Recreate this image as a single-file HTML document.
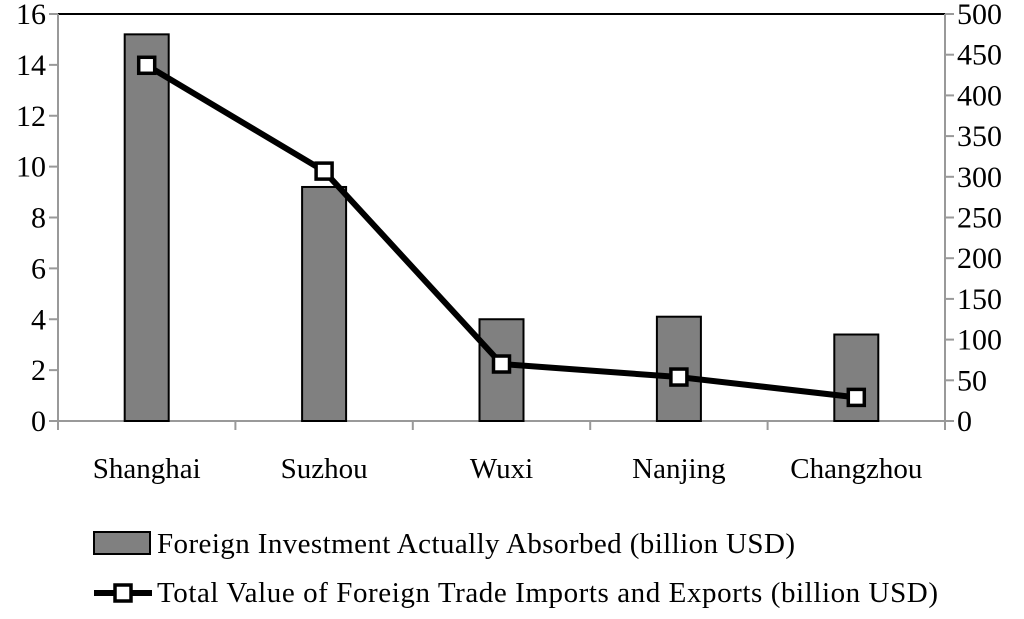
<!DOCTYPE html>
<html><head><meta charset="utf-8"><style>
html,body{margin:0;padding:0;background:#fff}
svg text{font-family:"Liberation Serif",serif;fill:#000}
</style></head><body>
<svg id="c" width="1024" height="614" viewBox="0 0 1024 614"></svg>
<script>
const categories=["Shanghai","Suzhou","Wuxi","Nanjing","Changzhou"];
const investment=[15.2,9.2,4.0,4.1,3.4];
const trade=[437,307,70,54,29];
const leftTicks=[0,2,4,6,8,10,12,14,16];
const rightTicks=[0,50,100,150,200,250,300,350,400,450,500];
const NS="http://www.w3.org/2000/svg";
const svg=document.getElementById('c');
const L=58,R=945,T=14,B=421;
const yL=v=>B-(v/16)*(B-T);
const yR=v=>B-(v/500)*(B-T);
const bw=(R-L)/categories.length;
const xC=i=>L+bw*(i+0.5);
function mk(tag,attrs,parent){const e=document.createElementNS(NS,tag);for(const k in attrs)e.setAttribute(k,attrs[k]);(parent||svg).appendChild(e);return e;}
let e=mk('line',{x1:L,y1:T,x2:R,y2:T,stroke:'#000','stroke-width':2});


e=mk('line',{x1:L,y1:T,x2:L,y2:B,stroke:'#999','stroke-width':2});


e=mk('line',{x1:R,y1:T,x2:R,y2:B,stroke:'#999','stroke-width':2});


e=mk('line',{x1:L,y1:B,x2:R,y2:B,stroke:'#999','stroke-width':2});


leftTicks.forEach(v=>{
  const y=yL(v);
  let t=mk('line',{x1:L-9,y1:y,x2:L,y2:y,stroke:'#999','stroke-width':2});
  
  
  let tx=mk('text',{x:L-12,y:y+10,'text-anchor':'end','font-size':30});
  tx.textContent=v;
  
  
});
rightTicks.forEach(v=>{
  const y=yR(v);
  let t=mk('line',{x1:R,y1:y,x2:R+9,y2:y,stroke:'#999','stroke-width':2});
  
  
  let tx=mk('text',{x:R+12,y:y+10,'text-anchor':'start','font-size':30});
  tx.textContent=v;
  
  
});
for(let i=0;i<=categories.length;i++){
  const x=L+bw*i;
  let t=mk('line',{x1:x,y1:B,x2:x,y2:B+9,stroke:'#999','stroke-width':2});
  
  
}
categories.forEach((c,i)=>{
  let tx=mk('text',{x:xC(i),y:478,'text-anchor':'middle','font-size':29});
  tx.textContent=c;
  
  
});
investment.forEach((v,i)=>{
  let r=mk('rect',{x:xC(i)-22,y:yL(v),width:44,height:B-yL(v),fill:'#808080',stroke:'#000','stroke-width':2});
  
  
});
let pts=trade.map((v,i)=>xC(i)+','+yR(v)).join(' ');
let pl=mk('polyline',{points:pts,fill:'none',stroke:'#000','stroke-width':6,'stroke-linejoin':'round'});


trade.forEach((v,i)=>{
  let m=mk('rect',{x:xC(i)-8,y:yR(v)-8,width:16,height:16,fill:'#fff',stroke:'#000','stroke-width':3.5});
  
  
});
let lr=mk('rect',{x:94,y:532,width:56,height:22,fill:'#808080',stroke:'#000','stroke-width':2});


let lt=mk('text',{x:157,y:553,'font-size':29,textLength:638,lengthAdjust:'spacing'});
lt.textContent='Foreign Investment Actually Absorbed (billion USD)';


let ll=mk('line',{x1:94,y1:593,x2:152,y2:593,stroke:'#000','stroke-width':6});


let lm=mk('rect',{x:115,y:585,width:16,height:16,fill:'#fff',stroke:'#000','stroke-width':3.5});


let lt2=mk('text',{x:157,y:602,'font-size':29,textLength:781,lengthAdjust:'spacing'});
lt2.textContent='Total Value of Foreign Trade Imports and Exports (billion USD)';


</script>
</body></html>
